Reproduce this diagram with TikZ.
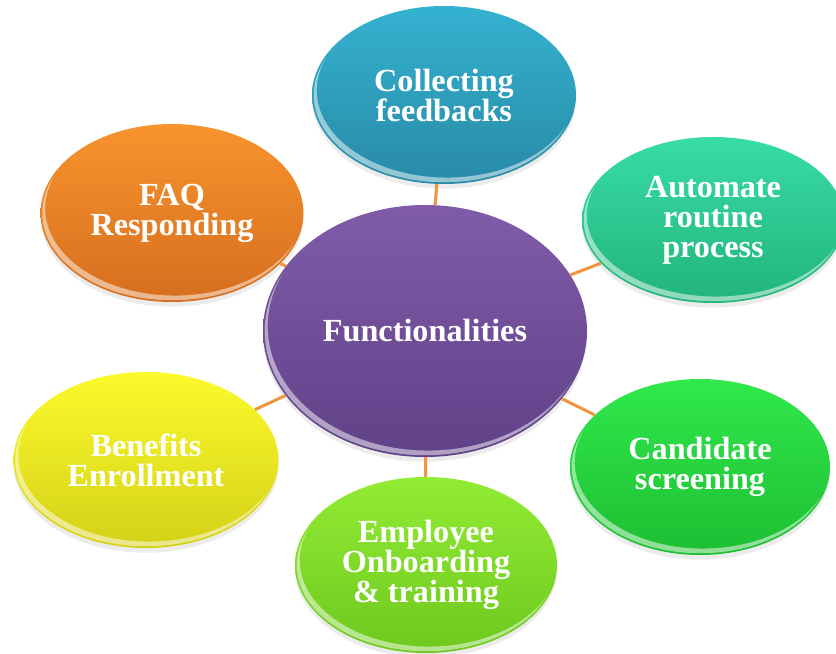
\documentclass[tikz,border=0pt]{standalone}
\usepackage{fontspec}
\setmainfont{Liberation Serif}
\usetikzlibrary{shapes.geometric, shadows, calc}

\definecolor{hubtop}{RGB}{128,92,168}
\definecolor{hubbot}{RGB}{96,66,136}
\definecolor{tealtop}{RGB}{52,178,208}
\definecolor{tealbot}{RGB}{40,138,166}
\definecolor{minttop}{RGB}{56,220,166}
\definecolor{mintbot}{RGB}{34,180,124}
\definecolor{greentop}{RGB}{48,232,76}
\definecolor{greenbot}{RGB}{30,190,50}
\definecolor{limetop}{RGB}{146,236,52}
\definecolor{limebot}{RGB}{110,200,30}
\definecolor{yellowtop}{RGB}{252,250,44}
\definecolor{yellowbot}{RGB}{212,208,24}
\definecolor{orangetop}{RGB}{248,148,46}
\definecolor{orangebot}{RGB}{214,110,30}
\definecolor{linkorange}{RGB}{240,150,64}

\begin{document}
\begin{tikzpicture}[x=0.03cm, y=-0.03cm,
    bubble/.style={ellipse, inner sep=0pt, text=white, align=center,
        font=\fontsize{27.5}{25.6}\selectfont\bfseries,
        drop shadow={opacity=.15, shadow xshift=0pt, shadow yshift=-4pt},
        path picture={
            % glossy band just inside the lower left rim
            \clip let \p1=(path picture bounding box.north east),
                      \p2=(path picture bounding box.center) in
                (path picture bounding box.center)
                ellipse[x radius=\x1-\x2-1.5pt, y radius=\y1-\y2-1.5pt];
            \fill[white, opacity=.5, even odd rule]
                let \p1=(path picture bounding box.north east),
                    \p2=(path picture bounding box.center) in
                (path picture bounding box.south west) rectangle (path picture bounding box.north east)
                ([xshift=2.5pt, yshift=4pt]path picture bounding box.center)
                ellipse[x radius=\x1-\x2-1.5pt, y radius=\y1-\y2-1.5pt];
        }},
    link/.style={draw=linkorange, line width=2.6pt}]
    \useasboundingbox (0,0) rectangle (836,654);

    \node[bubble, minimum width=324*0.03cm, minimum height=252*0.03cm,
        top color=hubtop, bottom color=hubbot] (hub) at (425,331) {Functionalities};

    \node[bubble, minimum width=264*0.03cm, minimum height=178*0.03cm,
        top color=tealtop, bottom color=tealbot] (feedback) at (444,95) {Collecting\\feedbacks};
    \node[bubble, minimum width=262*0.03cm, minimum height=166*0.03cm,
        top color=minttop, bottom color=mintbot] (routine) at (713,220) {Automate\\routine\\process};
    \node[bubble, minimum width=260*0.03cm, minimum height=176*0.03cm,
        top color=greentop, bottom color=greenbot] (screen) at (700,467) {Candidate\\screening};
    \node[bubble, minimum width=262*0.03cm, minimum height=176*0.03cm,
        top color=limetop, bottom color=limebot] (onboard) at (426,565) {Employee\\Onboarding\\\& training};
    \node[bubble, minimum width=265*0.03cm, minimum height=176*0.03cm,
        top color=yellowtop, bottom color=yellowbot] (benefit) at (146,460) {Benefits\\Enrollment};
    \node[bubble, minimum width=263*0.03cm, minimum height=178*0.03cm,
        top color=orangetop, bottom color=orangebot] (faq) at (172,213) {FAQ\\Responding};

    % spokes from the hub
    \draw[link] (hub)--(feedback);
    \draw[link] (hub)--(routine);
    \draw[link] (hub)--(screen);
    \draw[link] (hub)--(onboard);
    \draw[link] (hub)--(benefit);
    \draw[link] (hub)--(faq);
\end{tikzpicture}
\end{document}
